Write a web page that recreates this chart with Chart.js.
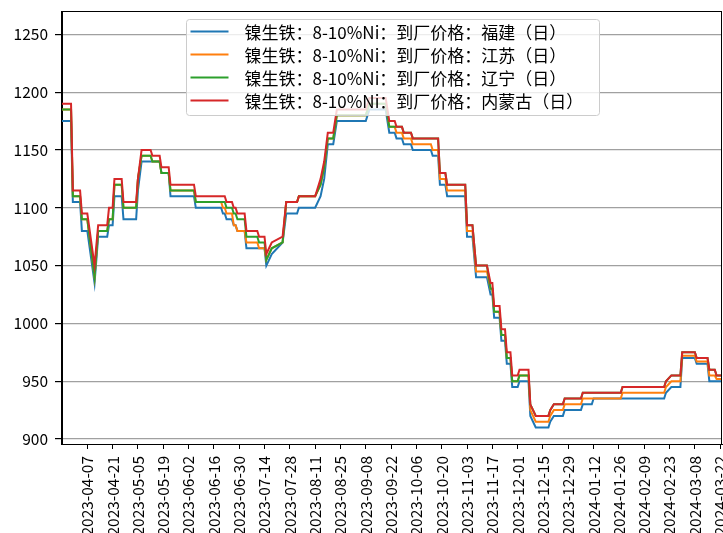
<!DOCTYPE html>
<html>
<head>
<meta charset="utf-8">
<script src="https://cdn.jsdelivr.net/npm/chart.js@4.4.1/dist/chart.umd.min.js"></script>
<style>
  body { margin: 0; background: #fff; }
  #priceChart { display: block; }
</style>
</head>
<body>
<canvas id="priceChart" width="723" height="533"></canvas>
<script>
// 镍生铁 8-10%Ni 到厂价格, daily, four regions
const seriesNames = [
  '镍生铁：8-10%Ni：到厂价格：福建（日）',
  '镍生铁：8-10%Ni：到厂价格：江苏（日）',
  '镍生铁：8-10%Ni：到厂价格：辽宁（日）',
  '镍生铁：8-10%Ni：到厂价格：内蒙古（日）'
];

const dates = [
  '2023-03-24', '2023-03-29', '2023-03-30', '2023-04-03', '2023-04-04', '2023-04-07',
  '2023-04-11', '2023-04-13', '2023-04-18', '2023-04-19', '2023-04-21', '2023-04-22',
  '2023-04-26', '2023-04-27', '2023-05-04', '2023-05-05', '2023-05-07', '2023-05-12',
  '2023-05-13', '2023-05-17', '2023-05-18', '2023-05-22', '2023-05-23', '2023-06-05',
  '2023-06-06', '2023-06-20', '2023-06-21', '2023-06-22', '2023-06-23', '2023-06-26',
  '2023-06-27', '2023-06-28', '2023-06-29', '2023-07-03', '2023-07-04', '2023-07-10',
  '2023-07-11', '2023-07-14', '2023-07-15', '2023-07-18', '2023-07-24', '2023-07-26',
  '2023-08-01', '2023-08-02', '2023-08-11', '2023-08-14', '2023-08-16', '2023-08-18',
  '2023-08-21', '2023-08-23', '2023-09-08', '2023-09-10', '2023-09-19', '2023-09-21',
  '2023-09-24', '2023-09-25', '2023-09-28', '2023-09-29', '2023-10-03', '2023-10-04',
  '2023-10-14', '2023-10-15', '2023-10-18', '2023-10-19', '2023-10-22', '2023-10-23',
  '2023-11-02', '2023-11-03', '2023-11-06', '2023-11-08', '2023-11-14', '2023-11-16',
  '2023-11-17', '2023-11-18', '2023-11-21', '2023-11-22', '2023-11-24', '2023-11-25',
  '2023-11-27', '2023-11-28', '2023-12-01', '2023-12-02', '2023-12-07', '2023-12-08',
  '2023-12-11', '2023-12-18', '2023-12-19', '2023-12-21', '2023-12-26', '2023-12-27',
  '2024-01-05', '2024-01-06', '2024-01-11', '2024-01-12', '2024-01-27', '2024-01-28',
  '2024-02-20', '2024-02-21', '2024-02-24', '2024-02-29', '2024-03-01', '2024-03-08',
  '2024-03-09', '2024-03-15', '2024-03-16', '2024-03-19', '2024-03-20', '2024-03-23'
];

const fujian = [
  1175, 1175, 1105, 1105, 1080, 1080,
  1035, 1075, 1075, 1085, 1085, 1110,
  1110, 1090, 1090, 1115, 1140, 1140,
  1140, 1140, 1130, 1130, 1110, 1110,
  1100, 1100, 1095, 1095, 1090, 1090,
  1085, 1085, 1080, 1080, 1065, 1065,
  1065, 1065, 1050, 1060, 1070, 1095,
  1095, 1100, 1100, 1110, 1125, 1155,
  1155, 1175, 1175, 1185, 1185, 1165,
  1165, 1160, 1160, 1155, 1155, 1150,
  1150, 1145, 1145, 1120, 1120, 1110,
  1110, 1075, 1075, 1040, 1040, 1025,
  1025, 1005, 1005, 985, 985, 965,
  965, 945, 945, 950, 950, 920,
  910, 910, 915, 920, 920, 925,
  925, 930, 930, 935, 935, 935,
  935, 940, 945, 945, 970, 970,
  965, 965, 950, 950, 950, 950
];

const jiangsu = [
  1185, 1185, 1110, 1110, 1090, 1090,
  1040, 1080, 1080, 1090, 1090, 1120,
  1120, 1100, 1100, 1125, 1145, 1145,
  1140, 1140, 1130, 1130, 1115, 1115,
  1105, 1105, 1100, 1100, 1095, 1095,
  1085, 1085, 1080, 1080, 1070, 1070,
  1065, 1065, 1055, 1065, 1070, 1105,
  1105, 1110, 1110, 1120, 1135, 1160,
  1160, 1180, 1180, 1190, 1190, 1170,
  1170, 1165, 1165, 1160, 1160, 1155,
  1155, 1150, 1150, 1125, 1125, 1115,
  1115, 1080, 1080, 1045, 1045, 1030,
  1030, 1010, 1010, 990, 990, 970,
  970, 950, 950, 955, 955, 925,
  915, 915, 920, 925, 925, 930,
  930, 935, 935, 935, 935, 940,
  940, 945, 950, 950, 972, 972,
  967, 967, 955, 955, 952, 952
];

const liaoning = [
  1185, 1185, 1110, 1110, 1090, 1090,
  1040, 1080, 1080, 1090, 1090, 1120,
  1120, 1100, 1100, 1125, 1145, 1145,
  1140, 1140, 1130, 1130, 1115, 1115,
  1105, 1105, 1105, 1105, 1100, 1100,
  1095, 1095, 1090, 1090, 1075, 1075,
  1070, 1070, 1055, 1065, 1070, 1105,
  1105, 1110, 1110, 1120, 1135, 1160,
  1160, 1180, 1180, 1190, 1190, 1170,
  1170, 1170, 1170, 1165, 1165, 1160,
  1160, 1160, 1160, 1130, 1130, 1120,
  1120, 1085, 1085, 1050, 1050, 1030,
  1030, 1010, 1010, 990, 990, 970,
  970, 950, 950, 955, 955, 930,
  920, 920, 925, 930, 930, 935,
  935, 940, 940, 940, 940, 945,
  945, 950, 955, 955, 975, 975,
  970, 970, 960, 960, 955, 955
];

const neimenggu = [
  1190, 1190, 1115, 1115, 1095, 1095,
  1050, 1085, 1085, 1100, 1100, 1125,
  1125, 1105, 1105, 1125, 1150, 1150,
  1145, 1145, 1135, 1135, 1120, 1120,
  1110, 1110, 1110, 1110, 1105, 1105,
  1100, 1100, 1095, 1095, 1080, 1080,
  1075, 1075, 1060, 1070, 1075, 1105,
  1105, 1110, 1110, 1125, 1140, 1165,
  1165, 1185, 1185, 1195, 1195, 1175,
  1175, 1170, 1170, 1165, 1165, 1160,
  1160, 1160, 1160, 1130, 1130, 1120,
  1120, 1085, 1085, 1050, 1050, 1035,
  1035, 1015, 1015, 995, 995, 975,
  975, 955, 955, 960, 960, 930,
  920, 920, 925, 930, 930, 935,
  935, 940, 940, 940, 940, 945,
  945, 950, 955, 955, 975, 975,
  970, 970, 960, 960, 955, 955
];

const tickLabels = [
  '2023-04-07', '2023-04-21', '2023-05-05', '2023-05-19', '2023-06-02', '2023-06-16',
  '2023-06-30', '2023-07-14', '2023-07-28', '2023-08-11', '2023-08-25', '2023-09-08',
  '2023-09-22', '2023-10-06', '2023-10-20', '2023-11-03', '2023-11-17', '2023-12-01',
  '2023-12-15', '2023-12-29', '2024-01-12', '2024-01-26', '2024-02-09', '2024-02-23',
  '2024-03-08', '2024-03-22'
];

const yTicks = [900, 950, 1000, 1050, 1100, 1150, 1200, 1250];

const lineColors = ['#1f77b4', '#ff7f0e', '#2ca02c', '#d62728'];
const tickFont = { family: '"Noto Sans CJK SC", "DejaVu Sans", sans-serif', size: 15.5 };
const legendFont = '17px "Noto Sans CJK SC", sans-serif';

function dayNum(s) {
  return Date.UTC(+s.slice(0, 4), +s.slice(5, 7) - 1, +s.slice(8, 10)) / 86400000;
}

function dayLabel(d) {
  return new Date(Math.round(d) * 86400000).toISOString().slice(0, 10);
}

function toPoints(values) {
  return dates.map((d, i) => ({ x: dayNum(d), y: values[i] }));
}

// matplotlib style box around the plot
const frame = {
  id: 'frame',
  afterDraw(chart) {
    const a = chart.chartArea;
    const ctx = chart.ctx;
    ctx.save();
    ctx.strokeStyle = '#000';
    ctx.lineWidth = 1;
    ctx.strokeRect(Math.round(a.left) - 0.5, Math.round(a.top) + 0.5,
      Math.round(a.right - a.left), Math.round(a.bottom - a.top));
    ctx.restore();
  }
};

// legend drawn inside the plot, upper center
const boxLegend = {
  id: 'boxLegend',
  afterDatasetsDraw(chart) {
    const a = chart.chartArea;
    const ctx = chart.ctx;
    const sets = chart.data.datasets;
    ctx.save();
    ctx.font = legendFont;
    let textW = 0;
    sets.forEach(ds => { textW = Math.max(textW, ctx.measureText(ds.label).width); });
    const boxW = Math.round(textW + 74);
    const left = Math.round((a.left + a.right) / 2 - boxW / 2) + 0.5;
    const top = Math.round(a.top) + 8.5;
    const rowH = 23;
    ctx.beginPath();
    ctx.roundRect(left, top, boxW, rowH * sets.length + 4, 3);
    ctx.fillStyle = 'rgba(255,255,255,0.8)';
    ctx.fill();
    ctx.strokeStyle = '#cccccc';
    ctx.lineWidth = 1;
    ctx.stroke();
    ctx.textBaseline = 'middle';
    ctx.fillStyle = '#000';
    sets.forEach((ds, i) => {
      const y = top + 12 + i * rowH;
      ctx.beginPath();
      ctx.moveTo(left + 4, y);
      ctx.lineTo(left + 42, y);
      ctx.strokeStyle = ds.borderColor;
      ctx.lineWidth = 2;
      ctx.stroke();
      ctx.fillText(ds.label, left + 58, y + 1);
    });
    ctx.restore();
  }
};

const allSeries = [fujian, jiangsu, liaoning, neimenggu];

const ctx = document.getElementById('priceChart').getContext('2d');
new Chart(ctx, {
  type: 'line',
  data: {
    datasets: allSeries.map((vals, i) => ({
      label: seriesNames[i],
      data: toPoints(vals),
      borderColor: lineColors[i],
      backgroundColor: lineColors[i],
      borderWidth: 2,
      pointRadius: 0,
      tension: 0,
      order: allSeries.length - i
    }))
  },
  options: {
    responsive: false,
    animation: false,
    layout: { padding: { top: 11, right: 1, left: 0, bottom: 0 } },
    plugins: {
      legend: { display: false },
      tooltip: { enabled: false }
    },
    scales: {
      x: {
        type: 'linear',
        min: dayNum(dates[0]),
        max: dayNum(dates[dates.length - 1]),
        afterBuildTicks: axis => { axis.ticks = tickLabels.map(t => ({ value: dayNum(t) })); },
        afterFit: axis => { axis.height = 89; axis.paddingLeft = 0; axis.paddingRight = 0; },
        grid: { drawOnChartArea: false, color: '#000', tickColor: '#000', tickLength: 5 },
        border: { color: '#000' },
        ticks: {
          autoSkip: false,
          minRotation: 90,
          maxRotation: 90,
          padding: 7,
          color: '#000',
          font: tickFont,
          callback: v => dayLabel(v)
        }
      },
      y: {
        min: 895.7,
        max: 1270.2,
        afterBuildTicks: axis => { axis.ticks = yTicks.map(v => ({ value: v })); },
        afterFit: axis => { axis.width = 62; axis.paddingTop = 0; axis.paddingBottom = 0; },
        grid: { color: '#a0a0a0', lineWidth: 1.2, tickColor: '#000', tickLength: 7 },
        border: { color: '#000' },
        ticks: {
          padding: 7,
          color: '#000',
          font: tickFont,
          callback: v => String(v)
        }
      }
    }
  },
  plugins: [frame, boxLegend]
});
</script>
</body>
</html>
